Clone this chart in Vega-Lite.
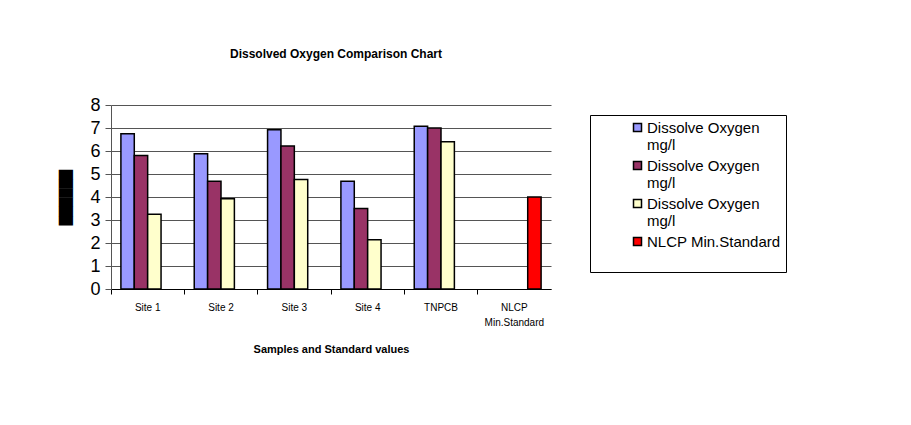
{
  "$schema": "https://vega.github.io/schema/vega-lite/v6.json",
  "autosize": "none",
  "padding": {"left": 111, "top": 105, "right": 360, "bottom": 136},
  "width": 440,
  "height": 184,
  "background": "white",
  "title": {
    "text": "Dissolved Oxygen Comparison Chart",
    "font": "Liberation Sans",
    "fontSize": 12,
    "fontWeight": "bold",
    "color": "black",
    "anchor": "middle",
    "offset": 35,
    "dx": 5
  },
  "data": {
    "values": [
      {"site": "Site 1", "series": "DO1", "value": 6.75},
      {"site": "Site 1", "series": "DO2", "value": 5.8},
      {"site": "Site 1", "series": "DO3", "value": 3.25},
      {"site": "Site 2", "series": "DO1", "value": 5.88},
      {"site": "Site 2", "series": "DO2", "value": 4.68},
      {"site": "Site 2", "series": "DO3", "value": 3.92},
      {"site": "Site 3", "series": "DO1", "value": 6.92},
      {"site": "Site 3", "series": "DO2", "value": 6.22},
      {"site": "Site 3", "series": "DO3", "value": 4.76},
      {"site": "Site 4", "series": "DO1", "value": 4.68},
      {"site": "Site 4", "series": "DO2", "value": 3.5},
      {"site": "Site 4", "series": "DO3", "value": 2.14},
      {"site": "TNPCB", "series": "DO1", "value": 7.08},
      {"site": "TNPCB", "series": "DO2", "value": 7.0},
      {"site": "TNPCB", "series": "DO3", "value": 6.4},
      {"site": "NLCP Min.Standard", "series": "NLCP", "value": 4.0}
    ]
  },
  "mark": {"type": "bar", "stroke": "black", "strokeWidth": 1.5},
  "encoding": {
    "x": {
      "field": "site",
      "type": "nominal",
      "sort": null,
      "scale": {"paddingInner": 0, "paddingOuter": 0},
      "axis": {
        "title": "Samples and Standard values",
        "titleFont": "Liberation Sans",
        "titleFontSize": 11,
        "titleFontWeight": "bold",
        "titleColor": "black",
        "titlePadding": 16,
        "labelAngle": 0,
        "labelFont": "Liberation Sans",
        "labelFontSize": 10,
        "labelColor": "black",
        "labelPadding": 8,
        "labelLineHeight": 15,
        "labelExpr": "datum.value == 'NLCP Min.Standard' ? ['NLCP', 'Min.Standard'] : datum.value",
        "bandPosition": 0,
        "tickSize": 5,
        "tickColor": "black",
        "domainColor": "black",
        "grid": false
      }
    },
    "xOffset": {
      "field": "series",
      "type": "nominal",
      "scale": {"domain": ["DO1", "DO2", "DO3", "NLCP"], "paddingInner": 0, "paddingOuter": 0.74}
    },
    "y": {
      "field": "value",
      "type": "quantitative",
      "scale": {"domain": [0, 8], "nice": false},
      "axis": {
        "values": [0, 1, 2, 3, 4, 5, 6, 7, 8],
        "title": "██████",
        "titleFont": "DejaVu Sans",
        "titleFontSize": 12,
        "titleColor": "black",
        "titlePadding": 17.5,
        "labelFont": "Liberation Sans",
        "labelFontSize": 18,
        "labelColor": "black",
        "labelPadding": 5,
        "tickSize": 6,
        "tickColor": "#555555",
        "domainColor": "#555555",
        "gridColor": "#555555",
        "gridWidth": 1,
        "grid": true
      }
    },
    "color": {
      "field": "series",
      "type": "nominal",
      "scale": {
        "domain": ["DO1", "DO2", "DO3", "NLCP"],
        "range": ["#9999FF", "#993366", "#FFFFCC", "#FF0000"]
      },
      "legend": {
        "orient": "none",
        "legendX": 479,
        "legendY": 10,
        "title": null,
        "labelExpr": "datum.value == 'NLCP' ? ['NLCP Min.Standard           ', ' '] : ['Dissolve Oxygen', 'mg/l']",
        "labelFont": "Liberation Sans",
        "labelFontSize": 15,
        "labelColor": "black",
        "labelLimit": 400,
        "labelOffset": 2,
        "symbolOffset": 35,
        "symbolType": "square",
        "symbolSize": 64,
        "symbolStrokeColor": "black",
        "symbolStrokeWidth": 1.5,
        "rowPadding": 5,
        "padding": 5,
        "strokeColor": "black",
        "fillColor": "white"
      }
    }
  },
  "config": {
    "view": {"stroke": null}
  }
}
